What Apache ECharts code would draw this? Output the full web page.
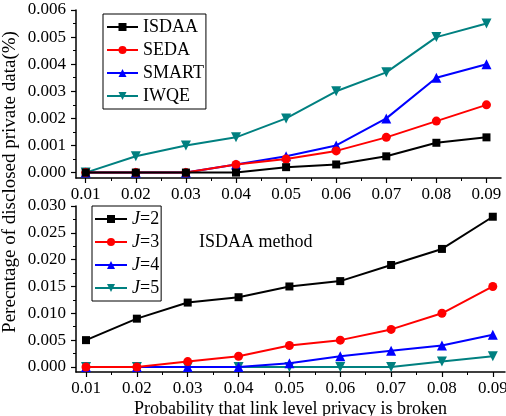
<!DOCTYPE html>
<html>
<head>
<meta charset="utf-8">
<script src="https://cdn.jsdelivr.net/npm/echarts@6/dist/echarts.min.js"></script>
<style>html,body{margin:0;padding:0;background:#fff;}#c{width:506px;height:416px;}</style>
</head>
<body>
<div id="c"></div>
<script>
// ---- data ----
var xValues = [0.01, 0.02, 0.03, 0.04, 0.05, 0.06, 0.07, 0.08, 0.09];
var xTickLabels = [0.01, 0.02, 0.03, 0.04, 0.05, 0.06, 0.07, 0.08, 0.09];
var xMinorTicks = [0.015, 0.025, 0.035, 0.045, 0.055, 0.065, 0.075, 0.085];

var topNames = ['ISDAA', 'SEDA', 'SMART', 'IWQE'];
var isdaa = [0, 0, 0, 0, 0.0002, 0.0003, 0.0006, 0.0011, 0.0013];
var seda  = [0, 0, 0, 0.0003, 0.0005, 0.0008, 0.0013, 0.0019, 0.0025];
var smart = [0, 0, 0, 0.0003, 0.0006, 0.0010, 0.0020, 0.0035, 0.0040];
var iwqe  = [0, 0.0006, 0.0010, 0.0013, 0.0020, 0.0030, 0.0037, 0.0050, 0.0055];
var topYTicks = [0, 0.001, 0.002, 0.003, 0.004, 0.005, 0.006];
var topYMinor = [0.0005, 0.0015, 0.0025, 0.0035, 0.0045, 0.0055];

var botNames = ['J=2', 'J=3', 'J=4', 'J=5'];
var j2 = [0.005, 0.009, 0.012, 0.013, 0.015, 0.016, 0.019, 0.022, 0.028];
var j3 = [0, 0, 0.001, 0.002, 0.004, 0.005, 0.007, 0.010, 0.015];
var j4 = [0, 0, 0, 0, 0.0007, 0.002, 0.003, 0.004, 0.006];
var j5 = [0, 0, 0, 0, 0, 0, 0, 0.001, 0.002];
var botYTicks = [0, 0.005, 0.010, 0.015, 0.020, 0.025, 0.030];
var botYMinor = [0.0025, 0.0075, 0.0125, 0.0175, 0.0225, 0.0275];

var yTitle = 'Perecntage of disclosed private data(%)';
var xTitle = 'Probability that link level privacy is broken';
var annot = 'ISDAA method';

// ---- styles ----
var FONT = 'Liberation Serif';
var colors = ['#000000', '#ff0000', '#0000ff', '#008080'];
var symbols = ['rect', 'circle', 'triangle', 'triangle'];
var symSizes = [8, 9, 10, 10];
var rot = [0, 0, 0, 180];

function pairs(ys) { return xValues.map(function (x, i) { return [x, ys[i]]; }); }

function mkSeries(name, ys, k, xi, yi) {
  return {
    name: name, type: 'line', data: pairs(ys), xAxisIndex: xi, yAxisIndex: yi,
    symbol: symbols[k], symbolSize: symSizes[k], symbolRotate: rot[k],
    showAllSymbol: true, z: 10 - k,
    lineStyle: { color: colors[k], width: 2 },
    itemStyle: { color: colors[k] },
    animation: false
  };
}

var axisLineStyle = { show: true, onZero: false, lineStyle: { color: '#000', width: 1.5 } };
var labelStyle = { fontFamily: FONT, fontSize: 17, color: '#000' };

function xMain(gi, min, max, withName) {
  var o = {
    type: 'value', gridIndex: gi, min: min, max: max,
    axisLine: axisLineStyle,
    axisTick: { show: true, inside: false, length: 5, customValues: xTickLabels, lineStyle: { color: '#000', width: 1.2 } },
    axisLabel: Object.assign({ customValues: xTickLabels, margin: 8, showMinLabel: true, showMaxLabel: true,
      hideOverlap: false,
      formatter: function (v) { return v.toFixed(2); } }, labelStyle),
    splitLine: { show: false }
  };
  if (withName) {
    o.name = xTitle; o.nameLocation = 'middle'; o.nameGap = 28;
    o.nameTextStyle = { fontFamily: FONT, fontSize: 18, color: '#000' };
  }
  return o;
}
function xMinor(gi, min, max) {
  return {
    type: 'value', gridIndex: gi, min: min, max: max, position: 'bottom',
    axisLine: { show: false, onZero: false },
    axisTick: { show: true, length: 3, customValues: xMinorTicks, lineStyle: { color: '#000', width: 1 } },
    axisLabel: { show: false }, splitLine: { show: false }
  };
}
function yMain(gi, min, max, ticks, dec) {
  return {
    type: 'value', gridIndex: gi, min: min, max: max, position: 'left',
    axisLine: axisLineStyle,
    axisTick: { show: true, length: 5, customValues: ticks, lineStyle: { color: '#000', width: 1.2 } },
    axisLabel: Object.assign({ customValues: ticks, margin: 10,
      formatter: function (v) { return v.toFixed(dec); } }, labelStyle),
    splitLine: { show: false }
  };
}
function yMinor(gi, min, max, ticks) {
  return {
    type: 'value', gridIndex: gi, min: min, max: max, position: 'left',
    axisLine: { show: false, onZero: false },
    axisTick: { show: true, length: 3, customValues: ticks, lineStyle: { color: '#000', width: 1 } },
    axisLabel: { show: false }, splitLine: { show: false }
  };
}

var legendText = { fontFamily: FONT, fontSize: 18, color: '#000' };

var chart = echarts.init(document.getElementById('c'), null, { renderer: 'canvas' });
chart.setOption({
  backgroundColor: '#fff',
  animation: false,
  grid: [
    { left: 76, right: 5, top: 10, height: 168, containLabel: false, outerBoundsMode: 'none' },
    { left: 76, right: 1, top: 206, height: 166, containLabel: false, outerBoundsMode: 'none' }
  ],
  xAxis: [
    xMain(0, 0.00806, 0.0929, false),
    xMain(1, 0.00803, 0.0924, true),
    xMinor(0, 0.00806, 0.0929),
    xMinor(1, 0.00803, 0.0924)
  ],
  yAxis: [
    yMain(0, -0.0002, 0.006, topYTicks, 3),
    yMain(1, -0.00094, 0.030, botYTicks, 3),
    yMinor(0, -0.0002, 0.006, topYMinor),
    yMinor(1, -0.00094, 0.030, botYMinor)
  ],
  legend: [
    {
      data: topNames, orient: 'vertical', left: 103, top: 14,
      itemWidth: 31, itemHeight: 10, itemGap: 5,
      padding: [4, 2, 4, 3], borderColor: '#000', borderWidth: 1,
      textStyle: legendText, selectedMode: false
    },
    {
      data: botNames, orient: 'vertical', left: 92, top: 206,
      itemWidth: 32, itemHeight: 10, itemGap: 5,
      padding: [4, 2, 4, 2], borderColor: '#000', borderWidth: 1,
      selectedMode: false,
      formatter: function (n) { return '{i|J}' + n.substring(1); },
      textStyle: Object.assign({ rich: { i: { fontFamily: FONT, fontSize: 18, fontStyle: 'italic', color: '#000' } } }, legendText)
    }
  ],
  graphic: [
    {
      type: 'text', left: 199, top: 233,
      style: { text: annot, fontFamily: FONT, fontSize: 18, fill: '#000' }
    },
    {
      type: 'text', x: 10, y: 182, rotation: Math.PI / 2,
      style: { text: yTitle, fontFamily: FONT, fontSize: 19, fill: '#000', align: 'center', verticalAlign: 'middle' }
    }
  ],
  series: [
    mkSeries(topNames[0], isdaa, 0, 0, 0),
    mkSeries(topNames[1], seda, 1, 0, 0),
    mkSeries(topNames[2], smart, 2, 0, 0),
    mkSeries(topNames[3], iwqe, 3, 0, 0),
    mkSeries(botNames[0], j2, 0, 1, 1),
    mkSeries(botNames[1], j3, 1, 1, 1),
    mkSeries(botNames[2], j4, 2, 1, 1),
    mkSeries(botNames[3], j5, 3, 1, 1)
  ]
});
</script>
</body>
</html>
